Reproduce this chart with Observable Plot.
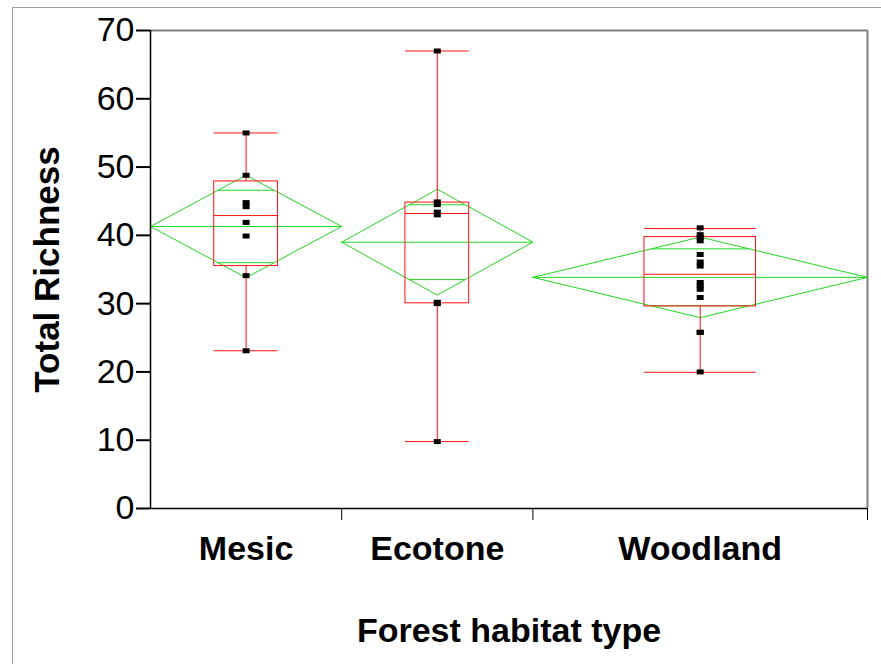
<!DOCTYPE html>
<html><head><meta charset="utf-8">
<script src="https://cdn.jsdelivr.net/npm/d3@7"></script>
<script src="https://cdn.jsdelivr.net/npm/@observablehq/plot@0.6"></script>
<style>
body{margin:0;background:#fff}
#wrap{position:relative;width:881px;height:664px;overflow:hidden}
#border{position:absolute;left:12px;top:7px;width:900px;height:700px;border-left:1.5px solid #a0a0a0;border-top:1.5px solid #a0a0a0}
#chart{position:absolute;left:0;top:0}
</style>
</head><body>
<div id="wrap"><div id="border"></div><div id="chart"></div></div>
<script>
// ---- data ----
const groups = ["Mesic", "Ecotone", "Woodland"];
const groupN = [8, 8, 14];
const mesicValues = [55.0, 48.8, 44.8, 44.2, 41.9, 39.9, 34.1, 23.1];
const ecotoneValues = [67.0, 44.9, 44.5, 43.4, 43.0, 30.2, 30.0, 9.8];
const woodlandValues = [41.1, 40.1, 39.7, 39.2, 37.2, 36.1, 35.5, 33.1, 32.6, 32.1, 30.9, 25.8, 25.8, 20.0];
const means = [41.3, 39.0, 33.85];
const ciHalf = [7.5, 7.75, 5.9];
const q1 = [35.5, 30.05, 29.6];
const medians = [42.9, 43.2, 34.3];
const q3 = [47.9, 44.8, 39.75];
const whiskerLow = [23.1, 9.8, 19.95];
const whiskerHigh = [55.0, 67.0, 41.0];
const yTicks = [0, 10, 20, 30, 40, 50, 60, 70];
const yTitle = "Total Richness";
const xTitle = "Forest habitat type";

// ---- derived layout (band widths proportional to group size) ----
const valuesByGroup = [mesicValues, ecotoneValues, woodlandValues];
const starts = [], ends = [];
let acc = 0;
groupN.forEach((n, i) => { starts.push(acc); acc += n; ends.push(acc); });
const total = acc;
const centers = groups.map((g, i) => (starts[i] + ends[i]) / 2);
const widths = groups.map((g, i) => ends[i] - starts[i]);
const idx = groups.map((g, i) => i);

const diamondRows = [];
idx.forEach(i => {
  const m = means[i], c = ciHalf[i];
  [[starts[i], m], [centers[i], m + c], [ends[i], m], [centers[i], m - c], [starts[i], m]]
    .forEach(([x, y]) => diamondRows.push({group: groups[i], x, y}));
});
const f = 1 - 1 / Math.SQRT2;
const overlapRows = [];
idx.forEach(i => {
  [1, -1].forEach(s => overlapRows.push({
    y: means[i] + s * ciHalf[i] / Math.SQRT2,
    x1: centers[i] - widths[i] / 2 * f,
    x2: centers[i] + widths[i] / 2 * f
  }));
});
const pointRows = [];
valuesByGroup.forEach((vals, i) => vals.forEach(v => pointRows.push({x: centers[i], y: v})));

const green = "#22d622";
const red = "#ff1010";
const font = "'Liberation Sans', Arial, Helvetica, sans-serif";
const pointSymbol = {draw(ctx) { ctx.rect(-3.5, -2.5, 7, 5); }};

const chart = Plot.plot({
  width: 881,
  height: 664,
  marginLeft: 150,
  marginRight: 14,
  marginTop: 30,
  marginBottom: 156,
  style: {fontFamily: font, background: "transparent", overflow: "visible"},
  x: {domain: [0, total], axis: null},
  y: {domain: [0, 70], axis: null},
  marks: [
    // frame
    Plot.ruleY([70], {stroke: "#808080", strokeWidth: 2}),
    Plot.ruleX([total], {stroke: "#808080", strokeWidth: 2}),
    // diamonds
    Plot.line(diamondRows, {x: "x", y: "y", z: "group", stroke: green, strokeWidth: 1}),
    Plot.ruleY(idx, {y: i => means[i], x1: i => starts[i], x2: i => ends[i], stroke: green, strokeWidth: 1}),
    Plot.ruleY(overlapRows, {y: "y", x1: "x1", x2: "x2", stroke: green, strokeWidth: 1}),
    // boxes
    Plot.rect(idx, {x1: i => centers[i] - widths[i] / 6, x2: i => centers[i] + widths[i] / 6, y1: i => q1[i], y2: i => q3[i], stroke: red, fill: "none", strokeWidth: 1}),
    Plot.ruleY(idx, {y: i => medians[i], x1: i => centers[i] - widths[i] / 6, x2: i => centers[i] + widths[i] / 6, stroke: red, strokeWidth: 1}),
    Plot.ruleX(idx, {x: i => centers[i], y1: i => q3[i], y2: i => whiskerHigh[i], stroke: red, strokeWidth: 1}),
    Plot.ruleX(idx, {x: i => centers[i], y1: i => q1[i], y2: i => whiskerLow[i], stroke: red, strokeWidth: 1}),
    Plot.ruleY(idx, {y: i => whiskerHigh[i], x1: i => centers[i] - widths[i] / 6, x2: i => centers[i] + widths[i] / 6, stroke: red, strokeWidth: 1}),
    Plot.ruleY(idx, {y: i => whiskerLow[i], x1: i => centers[i] - widths[i] / 6, x2: i => centers[i] + widths[i] / 6, stroke: red, strokeWidth: 1}),
    // points
    Plot.dot(pointRows, {x: "x", y: "y", symbol: pointSymbol, fill: "black", stroke: "none"}),
    // axes
    Plot.ruleX([0], {stroke: "black", strokeWidth: 1.5}),
    Plot.ruleY([0], {stroke: "black", strokeWidth: 1.5}),
    Plot.axisY({ticks: yTicks, tickSize: 14, tickPadding: 2, fontSize: 34, stroke: "black", strokeWidth: 2, label: null, color: "black"}),
    Plot.axisX({ticks: ends, tickSize: 12, tickFormat: () => "", strokeWidth: 1, label: null}),
    Plot.axisX({ticks: centers, tickSize: 0, tickPadding: 27, tickFormat: (d, i) => groups[i], fontSize: 34, fontWeight: "bold", label: null}),
    // titles
    Plot.text([yTitle], {frameAnchor: "left", textAnchor: "middle", dx: -103, rotate: -90, fontSize: 35, fontWeight: "bold", fill: "black"}),
    Plot.text([xTitle], {frameAnchor: "bottom", dy: 133, fontSize: 34, fontWeight: "bold", fill: "black"})
  ]
});
document.getElementById("chart").appendChild(chart);
</script>
</body></html>
